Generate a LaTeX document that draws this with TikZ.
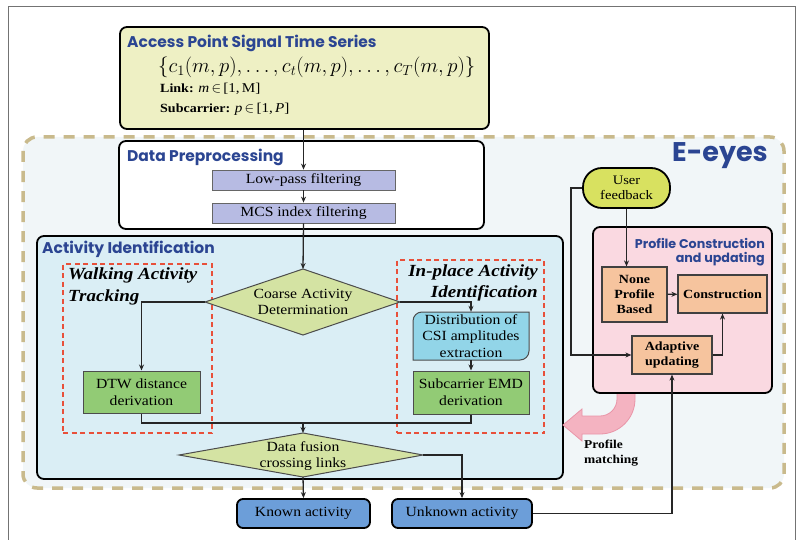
\documentclass[tikz,border=0pt]{standalone}
\usepackage{fontspec}
\setmainfont[FakeStretch=1.12]{Liberation Serif}
\newfontfamily\titlefont{Poppins}
\usetikzlibrary{arrows.meta,calc}
\definecolor{ttblue}{HTML}{2B4592}
\definecolor{apfill}{HTML}{EEF0C4}
\definecolor{eyesbg}{HTML}{F1F6F8}
\definecolor{dashc}{HTML}{C9BA8C}
\definecolor{lav}{HTML}{B7BBE3}
\definecolor{aifill}{HTML}{DAEEF5}
\definecolor{redd}{HTML}{E8503A}
\definecolor{dfill}{HTML}{D4E3A3}
\definecolor{gfill}{HTML}{92CB75}
\definecolor{cfill}{HTML}{92D5E8}
\definecolor{pinkfill}{HTML}{FAD9E1}
\definecolor{ofill}{HTML}{F6C49E}
\definecolor{uffill}{HTML}{D8E160}
\definecolor{bfill}{HTML}{6C9ED9}
\definecolor{parrow}{HTML}{F4B3C1}
\definecolor{parrowe}{HTML}{E995A8}
\begin{document}
\begin{tikzpicture}[x=1pt,y=-1pt,
  sz/.style 2 args={minimum width=#1pt, minimum height=#2pt},
  conn/.style={line width=1.3pt, draw=black!85},
  arr/.style={conn,-{Stealth[length=6pt,width=5pt]}},
  grp/.style={draw=black, line width=1.8pt, rounded corners=7pt, inner sep=0pt},
  stitle/.style={font=\titlefont\bfseries\fontsize{15.5}{17}\selectfont, text=ttblue, inner sep=0pt},
  ptitle/.style={font=\titlefont\bfseries\fontsize{12.7}{14}\selectfont, text=ttblue, anchor=east, inner sep=0pt},
  body/.style={font=\fontsize{14}{16.5}\selectfont, align=center, inner sep=0pt},
  filt/.style={inner sep=0pt, draw=black!60, line width=0.8pt, fill=lav, font=\fontsize{14}{16.5}\selectfont},
  gbox/.style={inner sep=0pt, draw=black!70, line width=1pt, fill=gfill, align=center, font=\fontsize{14}{17}\selectfont},
  obox/.style={inner sep=0pt, draw=black!75, line width=1.2pt, fill=ofill, align=center, font=\bfseries\fontsize{12.5}{15}\selectfont},
  bbox/.style={inner sep=0pt, draw=black, line width=1.8pt, rounded corners=6pt, fill=bfill, font=\fontsize{14}{16.5}\selectfont},
  reddash/.style={inner sep=0pt, draw=redd, line width=1.3pt, dash pattern=on 5pt off 3.5pt},
  bit/.style={font=\bfseries\itshape\fontsize{17}{19}\selectfont, inner sep=0pt},
  apline/.style={anchor=west, inner sep=0pt, font=\fontsize{12.5}{14}\selectfont}
]
\useasboundingbox (0,0) rectangle (802,540);
% outer frame
\draw[black!55, line width=0.8pt] (8,540) -- (8,6) -- (795,6) -- (795,540);
% E-eyes region
\draw[draw=dashc, fill=eyesbg, line width=3.5pt, dash pattern=on 11pt off 9pt, rounded corners=14pt] (23,137) rectangle (784,488);
\node[font=\titlefont\bfseries\fontsize{27}{30}\selectfont, text=ttblue, anchor=east, inner sep=0pt] (eyes) at (768,156) {E-eyes};

% Access point box
\node[grp, sz={369}{102}, fill=apfill] (ap) at (304.5,78) {};
\node[stitle, anchor=west] (apt) at (127,43) {Access Point Signal Time Series};
\node[anchor=west, inner sep=0pt, font=\fontsize{20.5}{22}\selectfont] (apf) at (158,67) {$\{c_1\bigl(m,p\bigr),\ldots,c_t\bigl(m,p\bigr),\ldots,c_T\bigl(m,p\bigr)\}$};
\node[apline] (apl) at (160,89) {\textbf{Link:} {\fontsize{13.5}{14}\selectfont\textit{m}\,$\in$\,[1,\,M]}};
\node[apline] (aps) at (160,109) {\textbf{Subcarrier:} {\fontsize{13.5}{14}\selectfont\textit{p}\,$\in$\,[1,\,\textit{P}]}};

% Data preprocessing
\node[grp, sz={365}{88}, fill=white] (dp) at (301.5,185) {};
\node[stitle, anchor=west] (dpt) at (127,157) {Data Preprocessing};
\node[filt, sz={183}{20}] (lp) at (303.5,180) {Low-pass filtering};
\node[filt, sz={183}{20}] (mcs) at (303.5,213) {MCS index filtering};

% Activity identification
\node[grp, sz={526}{243}, fill=aifill] (ai) at (300,357.5) {};
\node[stitle, anchor=west] (ait) at (42,249) {Activity Identification};
\node[reddash, sz={149}{169}] (wbox) at (137.5,348.5) {};
\node[bit, anchor=west] (wt1) at (68,275) {Walking Activity};
\node[bit, anchor=west] (wt2) at (68,297) {Tracking};
\node[reddash, sz={147}{173}] (ibox) at (470.5,346.5) {};
\node[bit, anchor=east] (it1) at (538,272) {In-place Activity};
\node[bit, anchor=east] (it2) at (538,293) {Identification};

% coarse diamond
\coordinate (cadT) at (303,269);
\coordinate (cadR) at (400,302);
\coordinate (cadB) at (303,335);
\coordinate (cadL) at (205,302);
\filldraw[fill=dfill, draw=black!70, line width=1pt] (cadT) -- (cadR) -- (cadB) -- (cadL) -- cycle;
\node[body] (cad) at (303,302) {Coarse Activity\\Determination};

\node[gbox, sz={117}{42}] (dtw) at (141.5,392) {DTW distance\\derivation};
\filldraw[fill=cfill, draw=black!70, line width=1pt] [rounded corners=9pt] (413,336) -- (413,312) -- (471,312) [sharp corners] -- (529,312) -- (529,336) [rounded corners=9pt] -- (529,360) -- (471,360) [sharp corners] -- (413,360) -- cycle;
\node[sz={116}{48}, inner sep=0pt, align=center, font=\fontsize{14}{16.5}\selectfont] (dist) at (471,336) {Distribution of\\CSI amplitudes\\extraction};
\node[gbox, sz={116}{43}] (emd) at (471,392.5) {Subcarrier EMD\\derivation};

% data fusion diamond
\coordinate (dfT) at (303,433);
\coordinate (dfR) at (423,455);
\coordinate (dfB) at (303,477);
\coordinate (dfL) at (179,455);
\filldraw[fill=dfill, draw=black!70, line width=1pt] (dfT) -- (dfR) -- (dfB) -- (dfL) -- cycle;
\node[body] (df) at (303,456) {Data fusion\\crossing links};

% outputs
\node[bbox, sz={133}{29}] (known) at (303.5,513.5) {Known activity};
\node[bbox, sz={140}{29}] (unknown) at (462,513.5) {Unknown activity};

% pink curved arrow
\filldraw[fill=parrow, draw=parrowe, line width=0.8pt] (635,390) -- (635,399) arc[start angle=0, end angle=90, radius=35] -- (582,434) -- (582,441) -- (563,425) -- (582,409) -- (582,416) -- (600,416) arc[start angle=90, end angle=0, radius=17] -- (617,390) -- cycle;
\node[anchor=north west, align=left, inner sep=0pt, font=\bfseries\fontsize{12}{15}\selectfont] (pm) at (584,440) {Profile\\matching};

% profile construction
\node[grp, sz={179}{166}, fill=pinkfill] (pc) at (682.5,310) {};
\node[ptitle] (pct1) at (765,243) {Profile Construction};
\node[ptitle] (pct2) at (765,259) {and updating};
\node[sz={87}{40}, inner sep=0pt, draw=black, line width=1.8pt, rounded corners=19pt, fill=uffill, align=center, font=\fontsize{13}{15.5}\selectfont] (uf) at (626.5,188) {User\\feedback};
\node[obox, sz={65}{55}] (np) at (634.5,294.5) {None\\Profile\\Based};
\node[obox, sz={89}{38}] (cons) at (722.5,294) {Construction};
\node[obox, sz={80}{38}] (adapt) at (672,355) {Adaptive\\updating};

% connectors
\draw[arr] (lp.north |- ap.south) -- (lp.north);
\draw[arr] (lp.south) -- (mcs.north);
\draw[arr] (mcs.south) -- (cadT);
\draw[arr] (cadL) -| (dtw.north);
\draw[arr] (cadR) -| (dist.north);
\draw[arr] (dist.south) -- (emd.north);
\coordinate (mrg) at (303,423);
\draw[conn] (dtw.south) |- (mrg) -| (emd.south);
\draw[arr] (mrg) -- (dfT);
\draw[arr] (dfB) -- (known.north);
\draw[arr] (dfR) -| (unknown.north);
\draw[arr] (unknown.east) -| (adapt.south);
\draw[arr] (uf.south) -- (uf.south |- np.north);
\draw[arr] (np) -- (cons);
\draw[arr] (adapt.east) -| (cons.south);
\coordinate (ufl) at (571,188);
\draw[arr] (uf.west) -- (ufl) |- (adapt.west);
\end{tikzpicture}
\end{document}
